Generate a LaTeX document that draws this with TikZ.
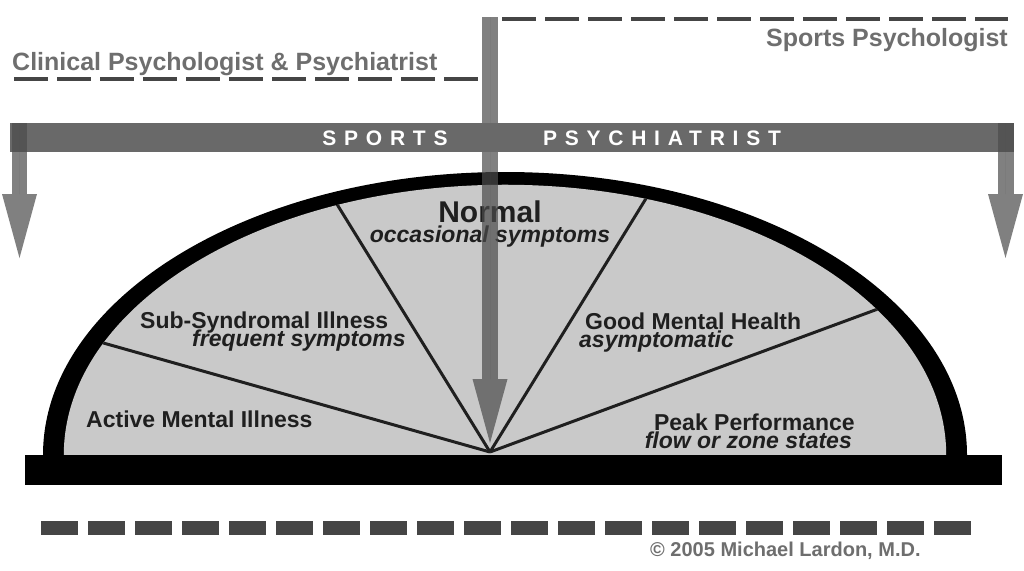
\documentclass[tikz,border=0pt]{standalone}
\usepackage{fontspec}
\setmainfont{Liberation Sans}
\usetikzlibrary{arrows.meta}
\definecolor{BarGray}{gray}{0.41}
\definecolor{DomeGray}{gray}{0.79}
\definecolor{DashGray}{gray}{0.27}
\definecolor{LabelGray}{gray}{0.43}
\definecolor{ArrowGray}{gray}{0.30}
\definecolor{InkGray}{gray}{0.12}
\newcommand\pxsize[1]{\fontsize{#1}{#1}\selectfont}
\newcommand\tightleading{\lineskiplimit=-100pt\relax}

\tikzset{
  dome outline/.style={insert path={(43,455) arc[start angle=180, end angle=0,
      x radius=462pt, y radius=283pt] -- cycle}},
  fatarrow/.style={draw=ArrowGray, fill=ArrowGray, opacity=.71, line width=#1,
      -{Triangle[length=64pt,width=35pt,line width=0pt]}},
  rolelabel/.style={font=\bfseries\pxsize{25}, text=LabelGray, inner sep=0pt},
  zone/.style={font=\bfseries\fontsize{23}{18}\selectfont\tightleading, text=InkGray, inner sep=0pt},
  bartext/.style={font=\bfseries\pxsize{21}\addfontfeature{LetterSpace=37}, text=white, inner sep=0pt},
  roledash/.style={DashGray, line width=4.5pt, dash pattern=on 34pt off 9pt},
  spoke/.style={InkGray, line width=3pt},
}

\begin{document}
\begin{tikzpicture}[x=1pt,y=-1pt]
\useasboundingbox (0,0) rectangle (1024,570);

% who treats what
\coordinate (clin-a) at (14,79);
\coordinate (clin-b) at (478,79);
\coordinate (sport-a) at (502,19);
\coordinate (sport-b) at (1008,19);
\draw[roledash] (clin-a) -- (clin-b);
\draw[roledash] (sport-a) -- (sport-b);
\node[rolelabel, anchor=base west] (clinical) at (12,70) {Clinical Psychologist \& Psychiatrist};
\node[rolelabel, anchor=base east] (sportspsy) at (1008,46) {Sports Psychologist};

% the dome
\fill[black, dome outline];
\fill[DomeGray, scale around={0.955:(505,455)}, dome outline];
\coordinate (apex) at (490,452);
\coordinate (s1) at (75,335);
\coordinate (s2) at (322,180);
\coordinate (s3) at (658,179);
\coordinate (s4) at (905,299);
\begin{scope}
\clip[scale around={0.955:(505,455)}, dome outline];
\foreach \s in {s1,s2,s3,s4}
  \draw[spoke] (apex) -- (\s);
\end{scope}

% zone labels (last line sits on the given point)
\node[zone, font=\bfseries\fontsize{23}{20}\selectfont\tightleading, align=center, anchor=base] (normal) at (490,242)
  {{\pxsize{30}Normal}\\\itshape occasional symptoms};
\node[zone, align=left, anchor=base west] (subsyn) at (140,346)
  {Sub-Syndromal Illness\\\hspace*{52pt}\itshape frequent symptoms};
\node[zone, align=left, anchor=base west] (good) at (579,347)
  {\hspace*{6pt}Good Mental Health\\\itshape asymptomatic};
\node[zone, anchor=base west] (active) at (86,427) {Active Mental Illness};
\node[zone, align=right, anchor=base east] (peak) at (855,448)
  {Peak Performance\\\itshape flow or zone states\hspace*{3pt}};

% arrow down the middle
\coordinate (mid-top) at (490,17);
\coordinate (mid-tip) at (490,443);
\draw[fatarrow=16pt] (mid-top) -- (mid-tip);

% sports psychiatrist bar
\fill[BarGray] (10,123) rectangle (1014,152);
\node[bartext] (sports) at (385,138) {SPORTS};
\node[bartext] (psychiatrist) at (662,138) {PSYCHIATRIST};
\coordinate (left-top) at (19.5,123);
\coordinate (left-tip) at (19.5,258);
\coordinate (right-top) at (1005.5,123);
\coordinate (right-tip) at (1005.5,258);
\draw[fatarrow=15pt] (left-top) -- (left-tip);
\draw[fatarrow=16pt] (right-top) -- (right-tip);

% base and ground
\fill[black] (25,455) rectangle (1002,485);
\foreach \i in {0,...,19}
  \fill[DashGray] ({41+47*\i},521) rectangle +(37,14);
\node[font=\bfseries\pxsize{20}, text=LabelGray, inner sep=0pt, anchor=base west] (copyright) at (650,556) {© 2005 Michael Lardon, M.D.};

\end{tikzpicture}
\end{document}
